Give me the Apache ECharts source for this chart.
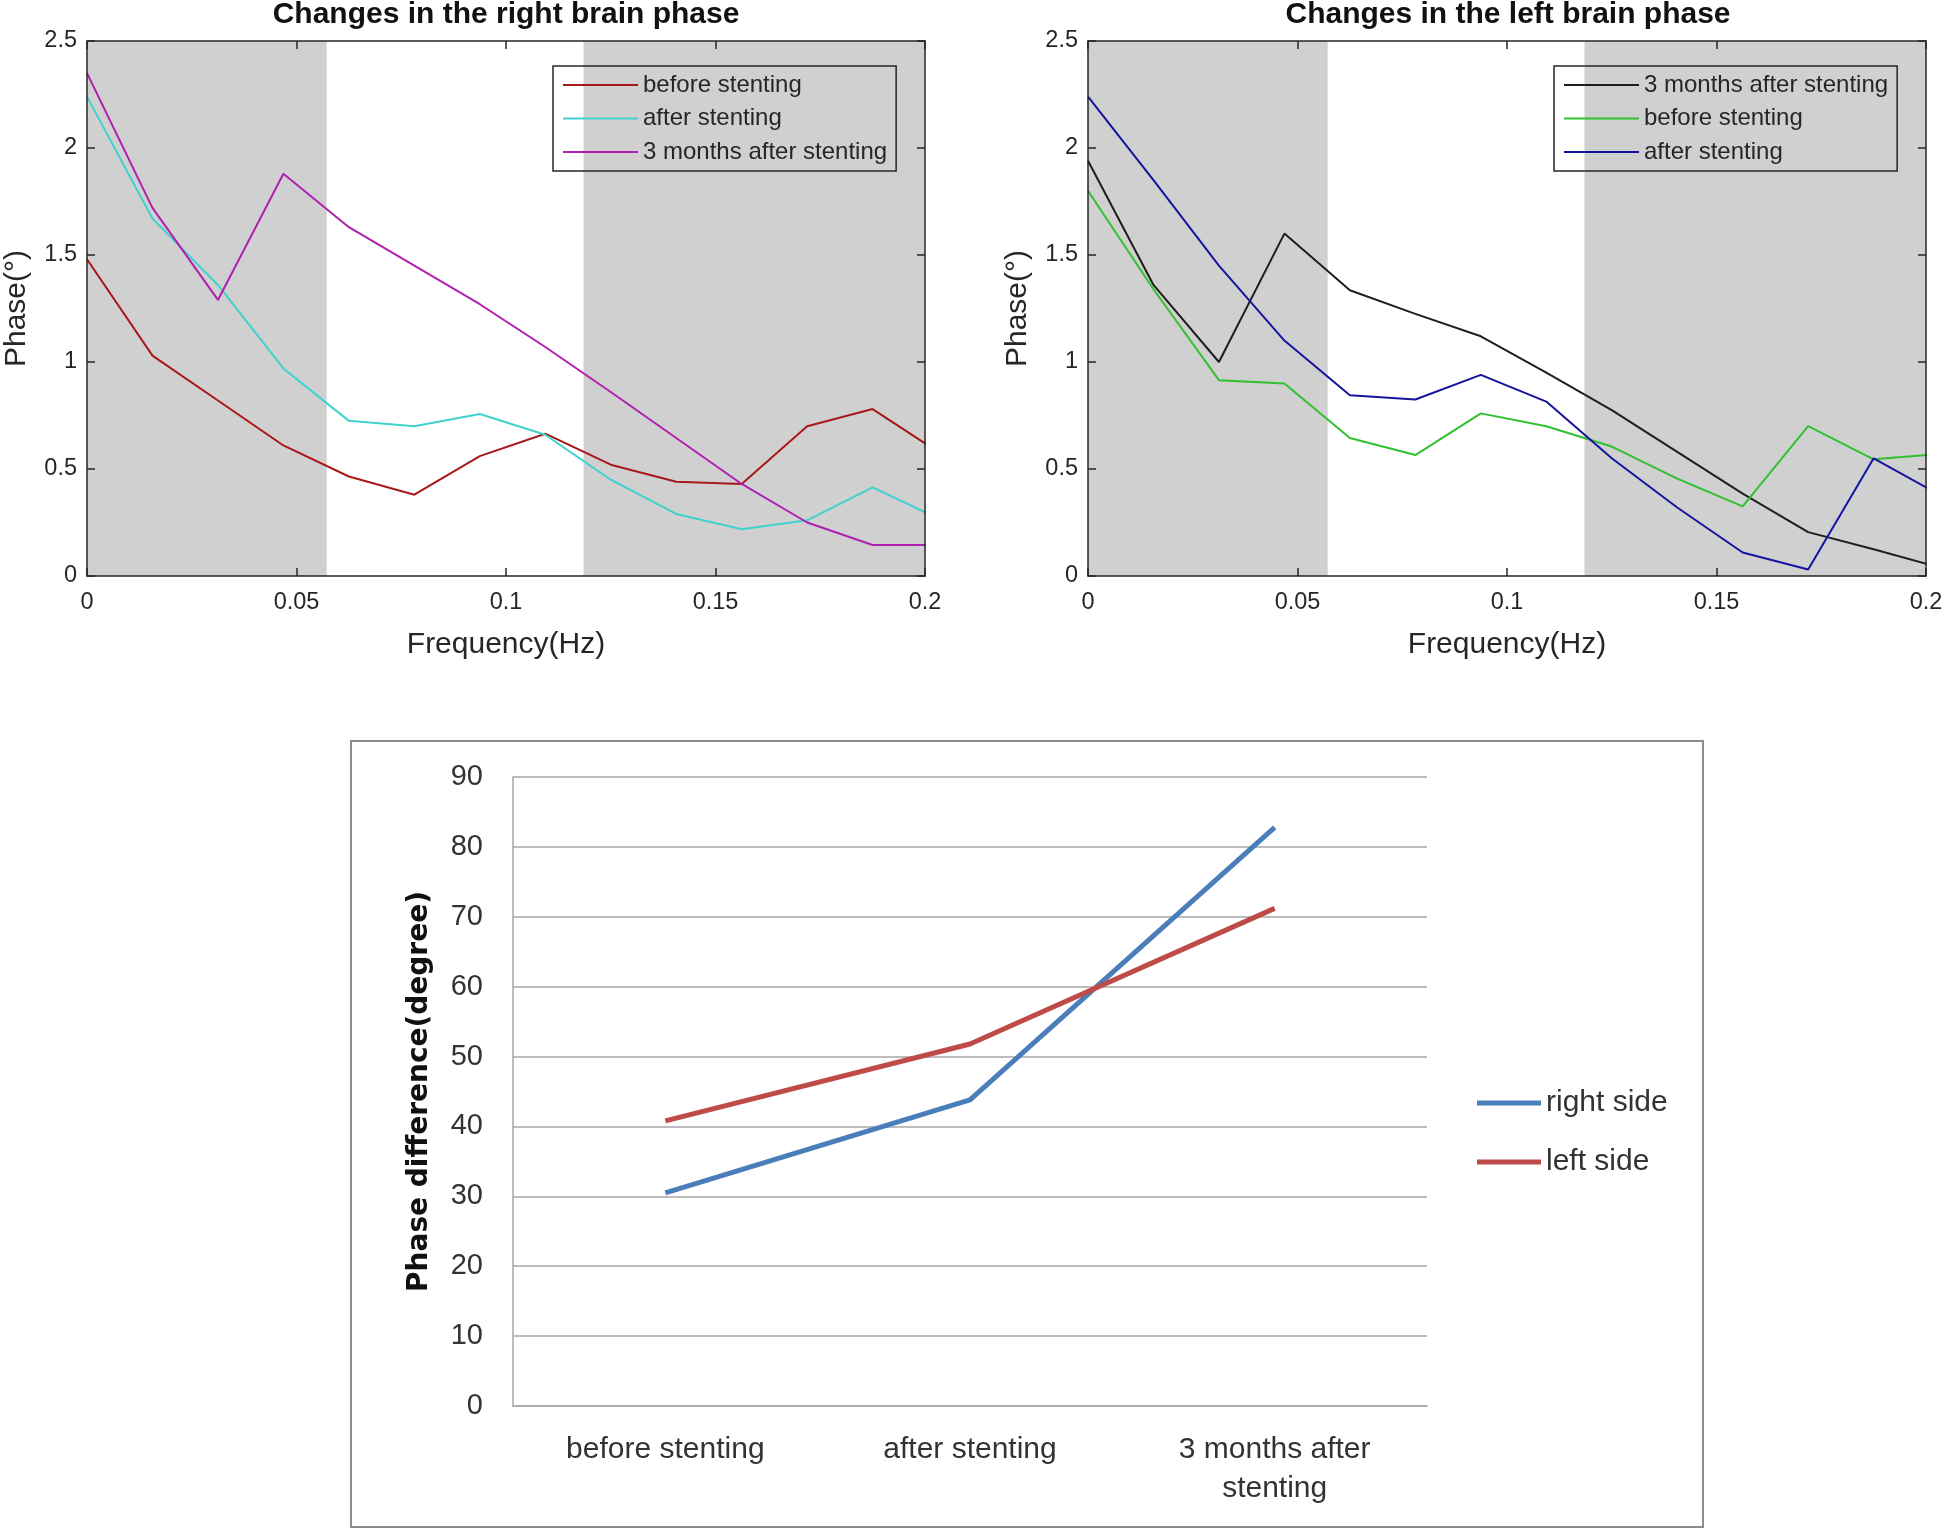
<!DOCTYPE html>
<html><head><meta charset="utf-8">
<script src="https://cdn.jsdelivr.net/npm/echarts@6/dist/echarts.min.js"></script>
<style>html,body{margin:0;padding:0;background:#fff}#c{width:1946px;height:1532px}</style>
</head><body><div id="c"></div>
<script>
// ---- data ----
const freq = [0, 0.015625, 0.03125, 0.046875, 0.0625, 0.078125, 0.09375, 0.109375, 0.125, 0.140625, 0.15625, 0.171875, 0.1875, 0.203125];
// right brain phase
const rightBefore = [1.48, 1.03, 0.82, 0.61, 0.465, 0.38, 0.56, 0.665, 0.52, 0.44, 0.43, 0.70, 0.78, 0.58];
const rightAfter  = [2.24, 1.67, 1.36, 0.97, 0.725, 0.70, 0.757, 0.66, 0.45, 0.29, 0.218, 0.26, 0.414, 0.27];
const right3m     = [2.35, 1.72, 1.29, 1.88, 1.63, 1.45, 1.27, 1.07, 0.86, 0.645, 0.43, 0.25, 0.145, 0.145];
// left brain phase
const left3m      = [1.94, 1.36, 1.00, 1.60, 1.335, 1.225, 1.12, 0.95, 0.775, 0.58, 0.385, 0.205, 0.125, 0.04];
const leftBefore  = [1.80, 1.34, 0.915, 0.90, 0.645, 0.565, 0.76, 0.70, 0.605, 0.455, 0.325, 0.70, 0.545, 0.57];
const leftAfter   = [2.24, 1.85, 1.45, 1.10, 0.845, 0.825, 0.94, 0.815, 0.55, 0.32, 0.11, 0.03, 0.55, 0.38];
// shaded frequency bands
const bands = [[0, 0.0572], [0.1185, 0.2]];
// phase difference summary
const stages = ['before stenting', 'after stenting', '3 months after\nstenting'];
const diffRight = [30.5, 43.8, 82.8];
const diffLeft  = [40.8, 51.8, 71.2];

// ---- chart ----
const FF = '"Liberation Sans", Arial, Helvetica, sans-serif';
const AX = '#262626';
const pairs = v => freq.map((f, i) => [f, v[i]]);

function mkX(gi, pos, main) {
  return {
    type: 'value', gridIndex: gi, position: pos, min: 0, max: 0.2, interval: 0.05, z: 5,
    axisLine: {show: true, onZero: false, lineStyle: {color: AX, width: 1.5}},
    axisTick: {show: true, inside: true, length: 8, lineStyle: {color: AX, width: 1.5}},
    axisLabel: {show: main, color: AX, fontSize: 23.5, margin: 15, fontFamily: FF},
    splitLine: {show: false},
    name: main ? 'Frequency(Hz)' : '', nameLocation: 'middle', nameGap: 54,
    nameTextStyle: {fontSize: 30, color: AX, fontFamily: FF}
  };
}
function mkY(gi, pos, main) {
  return {
    type: 'value', gridIndex: gi, position: pos, min: 0, max: 2.5, interval: 0.5, z: 5,
    axisLine: {show: true, onZero: false, lineStyle: {color: AX, width: 1.5}},
    axisTick: {show: true, inside: true, length: 8, lineStyle: {color: AX, width: 1.5}},
    axisLabel: {show: main, color: AX, fontSize: 23.5, margin: 10, fontFamily: FF},
    splitLine: {show: false},
    name: main ? 'Phase(°)' : '', nameLocation: 'middle', nameGap: 55,
    nameTextStyle: {fontSize: 30, color: AX, fontFamily: FF}
  };
}
function ln(name, data, color, xi, yi, extra) {
  return Object.assign({
    type: 'line', name: name, data: pairs(data), xAxisIndex: xi, yAxisIndex: yi,
    symbol: 'none', clip: true, lineStyle: {width: 2, color: color}, itemStyle: {color: color}
  }, extra || {});
}
const shade = {
  silent: true, itemStyle: {color: '#d0d0d0'},
  data: bands.map(b => [{xAxis: b[0]}, {xAxis: b[1]}])
};
function topLegend(names, left) {
  return {
    data: names, orient: 'vertical', left: left, top: 66, padding: [7, 9, 7, 10],
    itemGap: 9.5, itemWidth: 75, itemHeight: 2, icon: 'rect',
    borderColor: AX, borderWidth: 1.5,
    formatter: n => n.slice(2),
    textStyle: {fontSize: 24, color: AX, fontFamily: FF}
  };
}

const chart = echarts.init(document.getElementById('c'));
chart.setOption({
  backgroundColor: '#fff',
  animation: false,
  graphic: [
    {type: 'text', x: 506, y: 15, style: {text: 'Changes in the right brain phase', align: 'center', verticalAlign: 'middle', font: 'bold 30px ' + FF, fill: '#111'}},
    {type: 'text', x: 1508, y: 15, style: {text: 'Changes in the left brain phase', align: 'center', verticalAlign: 'middle', font: 'bold 30px ' + FF, fill: '#111'}},
    {type: 'rect', shape: {x: 351, y: 741, width: 1352, height: 786}, style: {fill: 'none', stroke: '#8c8c8c', lineWidth: 2}, z: -1}
  ],
  grid: [
    {left: 87, top: 41, width: 838, height: 535},
    {left: 1088, top: 41, width: 838, height: 535},
    {left: 513, top: 777, width: 914, height: 629}
  ],
  xAxis: [
    mkX(0, 'bottom', true), mkX(0, 'top', false),
    mkX(1, 'bottom', true), mkX(1, 'top', false),
    {
      type: 'category', gridIndex: 2, data: stages, boundaryGap: true,
      axisLine: {lineStyle: {color: '#a6a6a6', width: 1.5}}, axisTick: {show: false},
      axisLabel: {fontSize: 30, color: '#333', margin: 24, lineHeight: 39, fontFamily: FF}
    }
  ],
  yAxis: [
    mkY(0, 'left', true), mkY(0, 'right', false),
    mkY(1, 'left', true), mkY(1, 'right', false),
    {
      type: 'value', gridIndex: 2, min: 0, max: 90, interval: 10,
      axisLine: {show: true, lineStyle: {color: '#a6a6a6', width: 1.5}}, axisTick: {show: false},
      splitLine: {lineStyle: {color: '#a6a6a6', width: 1.5}},
      axisLabel: {fontSize: 29, color: '#333', margin: 30, fontFamily: FF},
      name: 'Phase difference(degree)', nameLocation: 'middle', nameGap: 79,
      nameTextStyle: {fontSize: 28, fontWeight: 'bold', color: '#111', fontFamily: '"DejaVu Sans", sans-serif'}
    }
  ],
  legend: [
    topLegend(['R:before stenting', 'R:after stenting', 'R:3 months after stenting'], 553),
    topLegend(['L:3 months after stenting', 'L:before stenting', 'L:after stenting'], 1554),
    {
      data: ['right side', 'left side'], orient: 'vertical', left: 1477, top: 1088, padding: 0,
      itemGap: 29, itemWidth: 64, itemHeight: 5, icon: 'rect',
      textStyle: {fontSize: 30, color: '#333', fontFamily: FF}
    }
  ],
  series: [
    ln('R:before stenting', rightBefore, '#a81818', 0, 0, {markArea: shade}),
    ln('R:after stenting', rightAfter, '#3fd2cc', 0, 0),
    ln('R:3 months after stenting', right3m, '#b020b0', 0, 0),
    ln('L:3 months after stenting', left3m, '#1e1e1e', 2, 2, {markArea: shade}),
    ln('L:before stenting', leftBefore, '#30c030', 2, 2),
    ln('L:after stenting', leftAfter, '#14149e', 2, 2),
    {type: 'line', name: 'right side', data: diffRight, xAxisIndex: 4, yAxisIndex: 4, symbol: 'none',
     lineStyle: {width: 5, color: '#4a7ebb'}, itemStyle: {color: '#4a7ebb'}},
    {type: 'line', name: 'left side', data: diffLeft, xAxisIndex: 4, yAxisIndex: 4, symbol: 'none',
     lineStyle: {width: 5, color: '#be4b48'}, itemStyle: {color: '#be4b48'}}
  ]
});
</script>
</body></html>
